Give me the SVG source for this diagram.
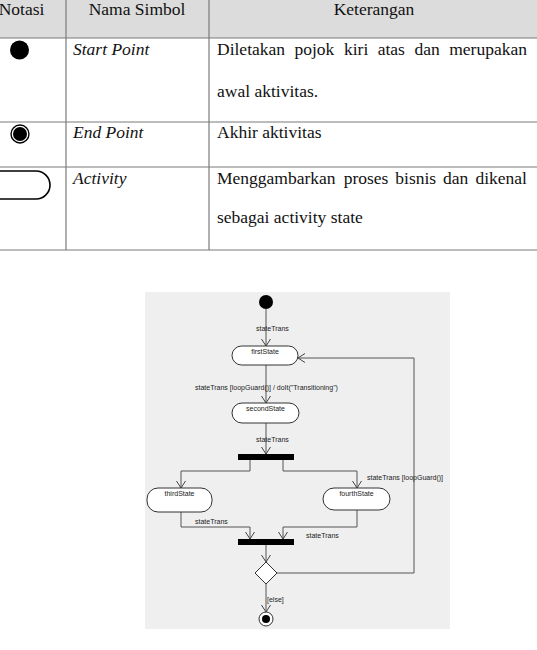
<svg xmlns="http://www.w3.org/2000/svg" width="537" height="650" viewBox="0 0 537 650">
<style>
.tl{stroke:#7a7a7a;stroke-width:1.2;fill:none}
.tt{font-family:"Liberation Serif","Times New Roman",serif;font-size:17.5px;fill:#111}
.it{font-style:italic}
.node{fill:#fff;stroke:#333;stroke-width:1}
.lbl{font-family:"Liberation Sans",Arial,sans-serif;font-size:7px;fill:#222}
.con{fill:none;stroke:#555;stroke-width:1;marker-end:url(#arr)}
</style>
<defs>
<marker id="arr" markerUnits="userSpaceOnUse" markerWidth="10" markerHeight="10" viewBox="0 0 10 10" refX="10" refY="5" orient="auto">
<path d="M3,0.5 L10,5 L3,9.5" fill="none" stroke="#444" stroke-width="1"/>
</marker>
</defs>
<rect width="537" height="650" fill="#fff"/>
<g id="table">
<rect x="0" y="0" width="537" height="38" fill="#dcdcdc"/>
<line class="tl" x1="66" y1="0" x2="66" y2="250"/>
<line class="tl" x1="209" y1="0" x2="209" y2="250"/>
<line class="tl" x1="0" y1="38" x2="537" y2="38"/>
<line class="tl" x1="0" y1="122" x2="537" y2="122"/>
<line class="tl" x1="0" y1="167" x2="537" y2="167"/>
<line class="tl" x1="0" y1="250" x2="537" y2="250"/>
<text class="tt" x="21.5" y="15" text-anchor="middle">Notasi</text>
<text class="tt" x="137" y="15" text-anchor="middle">Nama Simbol</text>
<text class="tt" x="374" y="15" text-anchor="middle">Keterangan</text>
<circle cx="19.5" cy="50" r="9.5" fill="#000"/>
<text class="tt it" x="73" y="55">Start Point</text>
<text class="tt" y="55"><tspan x="217">Diletakan</tspan><tspan x="294.5">pojok</tspan><tspan x="344">kiri</tspan><tspan x="377.7">atas</tspan><tspan x="414.4">dan</tspan><tspan x="449.2">merupakan</tspan></text>
<text class="tt" x="217" y="97">awal aktivitas.</text>
<circle cx="20" cy="134" r="9" fill="#fff" stroke="#000" stroke-width="1.4"/>
<circle cx="20" cy="134" r="7" fill="#000"/>
<text class="tt it" x="73" y="138">End Point</text>
<text class="tt" x="217" y="138">Akhir aktivitas</text>
<rect x="-20" y="171" width="70" height="28" rx="14" fill="#fff" stroke="#000" stroke-width="1.6"/>
<text class="tt it" x="73" y="184">Activity</text>
<text class="tt" y="184"><tspan x="217">Menggambarkan</tspan><tspan x="343.7">proses</tspan><tspan x="395.3">bisnis</tspan><tspan x="443.1">dan</tspan><tspan x="475.4">dikenal</tspan></text>
<text class="tt" x="217" y="223">sebagai activity state</text>
</g>
<rect x="145" y="292" width="305" height="337" fill="#efefef"/>
<g id="connectors">
<path class="con" d="M266,309 L266,346"/>
<path class="con" d="M266,365 L266,403"/>
<path class="con" d="M266,423 L266,454"/>
<path class="con" d="M250,460 L250,471 L181,471 L181,488"/>
<path class="con" d="M283,460 L283,471 L357,471 L357,488"/>
<path class="con" d="M181,512 L181,527 L250,527 L250,539"/>
<path class="con" d="M357,510 L357,527 L283,527 L283,539"/>
<path class="con" d="M266,545 L266,562"/>
<path class="con" d="M277,573 L414,573 L414,358 L298,358"/>
<path class="con" d="M266,584 L266,612"/>
<text class="lbl" x="256" y="330.5">stateTrans</text>
<text class="lbl" x="195" y="389.5">stateTrans [loopGuard()] / doIt("Transitioning")</text>
<text class="lbl" x="256" y="441.5">stateTrans</text>
<text class="lbl" x="367" y="479.5">stateTrans [loopGuard()]</text>
<text class="lbl" x="195" y="523.5">stateTrans</text>
<text class="lbl" x="306" y="537.5">stateTrans</text>
<text class="lbl" x="267" y="601.5">[else]</text>
</g>
<g id="start"><circle cx="266" cy="302" r="7" fill="#000"/></g>
<g id="firstState"><rect class="node" x="232" y="346" width="66" height="19" rx="9.5"/><text class="lbl" x="265" y="354" text-anchor="middle">firstState</text></g>
<g id="secondState"><rect class="node" x="232" y="403" width="67" height="20" rx="10"/><text class="lbl" x="265.5" y="410.5" text-anchor="middle">secondState</text></g>
<g id="fork"><rect x="238" y="454" width="56" height="6" fill="#000"/></g>
<g id="thirdState"><rect class="node" x="147" y="488" width="65" height="24" rx="11"/><text class="lbl" x="179.5" y="495.5" text-anchor="middle">thirdState</text></g>
<g id="fourthState"><rect class="node" x="323" y="488" width="67" height="22" rx="11"/><text class="lbl" x="356.5" y="495.5" text-anchor="middle">fourthState</text></g>
<g id="join"><rect x="238" y="539" width="56" height="6" fill="#000"/></g>
<g id="decision"><path class="node" d="M266,562 L277,573 L266,584 L255,573 Z"/></g>
<g id="end"><circle cx="266" cy="619" r="7" fill="#fff" stroke="#333"/><circle cx="266" cy="619" r="4" fill="#000"/></g>
</svg>
